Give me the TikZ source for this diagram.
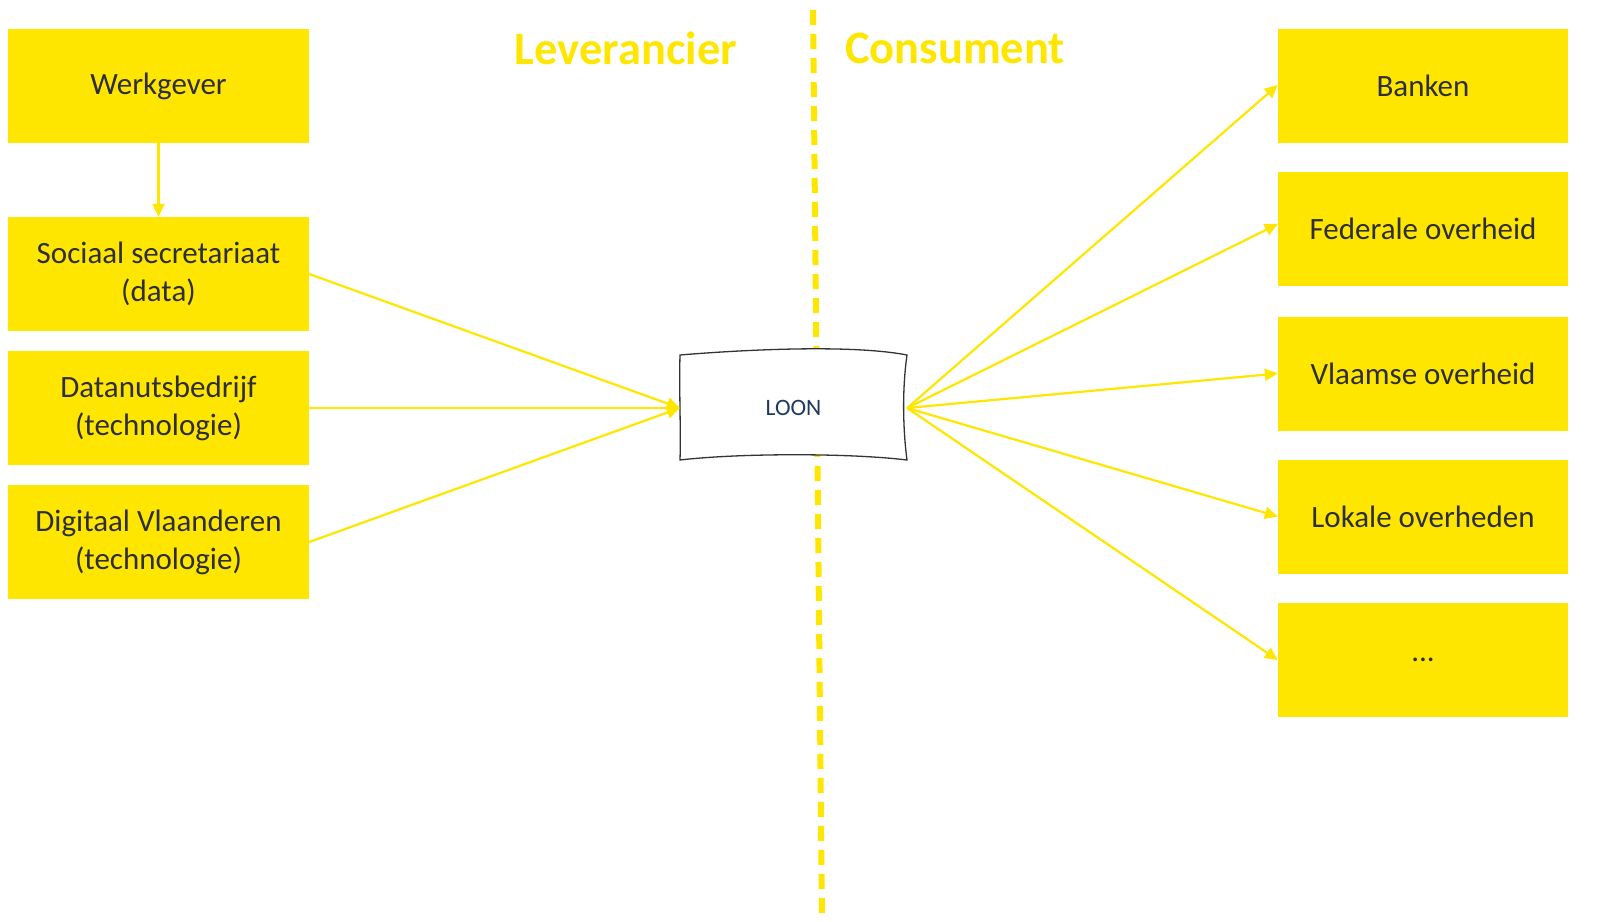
\documentclass[tikz,border=0pt]{standalone}
\usepackage{fontspec}
\setmainfont{Carlito}
\usetikzlibrary{arrows.meta}
\definecolor{eyyellow}{HTML}{FFE600}
\definecolor{txtgray}{HTML}{2E2E38}
\definecolor{navy}{HTML}{1F3864}
\tikzset{
  ybox/.style={fill=eyyellow, draw=none, text=txtgray, align=center, font=\fontsize{31}{38}\selectfont, inner sep=0pt},
  lbox/.style={ybox, minimum width=301pt, minimum height=114pt},
  rbox/.style={ybox, minimum width=290pt, minimum height=114pt},
  conn/.style={draw=eyyellow, line width=2.2pt, -{Triangle[length=13pt,width=12pt]}},
  head/.style={text=eyyellow, font=\fontsize{46.5}{52}\selectfont\bfseries},
}
\begin{document}
\begin{tikzpicture}[x=1pt,y=-1pt]
\useasboundingbox (0,0) rectangle (1608,921);
% dashed divider
\coordinate (dtop) at (813,10);
\coordinate (dbot) at (822,920);
\draw[eyyellow, line width=6pt, dash pattern=on 15pt off 9pt] (dtop) -- (dbot);
% headings
\node[head] (lev) at (626,48) {Leverancier};
\node[head] (con) at (955,48) {Consument};
% left boxes
\node[lbox] (werk) at (158.5,86) {Werkgever};
\node[lbox] (soc) at (158.5,274) {Sociaal secretariaat\\(data)};
\node[lbox] (dat) at (158.5,408) {Datanutsbedrijf\\(technologie)};
\node[lbox] (dig) at (158.5,542) {Digitaal Vlaanderen\\(technologie)};
% right boxes
\node[rbox] (ban) at (1423,86) {Banken};
\node[rbox] (fed) at (1423,229) {Federale overheid};
\node[rbox] (vla) at (1423,373.5) {Vlaamse overheid};
\node[rbox] (lok) at (1423,516.5) {Lokale overheden};
\node[rbox] (etc) at (1423,660) {...};
% LOON
\fill[white] (680,355) .. controls (740,350) and (850,344) .. (907,355)
  .. controls (902,390) and (903,430) .. (907,460)
  .. controls (850,453) and (740,453) .. (680,460)
  .. controls (681,430) and (679,390) .. (680,355) -- cycle;
\draw[draw=black!80, line width=1.3pt] (680,355) .. controls (740,350) and (850,344) .. (907,355)
  .. controls (902,390) and (903,430) .. (907,460)
  .. controls (850,453) and (740,453) .. (680,460)
  .. controls (681,430) and (679,390) .. (680,355) -- cycle;
\node[minimum width=227pt, minimum height=105pt, inner sep=0pt, text=navy, font=\fontsize{23.5}{28}\selectfont] (loon) at (793.5,408) {LOON};
% connectors
\draw[conn] (werk.south) -- (soc.north);
\draw[conn] (soc.east) -- (loon.west);
\draw[conn] (dat.east) -- (loon.west);
\draw[conn] (dig.east) -- (loon.west);
\draw[conn] (loon.east) -- ([yshift=1pt]ban.west);
\draw[conn] (loon.east) -- ([yshift=5pt]fed.west);
\draw[conn] (loon.east) -- (vla.west);
\draw[conn] (loon.east) -- (lok.west);
\draw[conn] (loon.east) -- (etc.west);
\end{tikzpicture}
\end{document}
